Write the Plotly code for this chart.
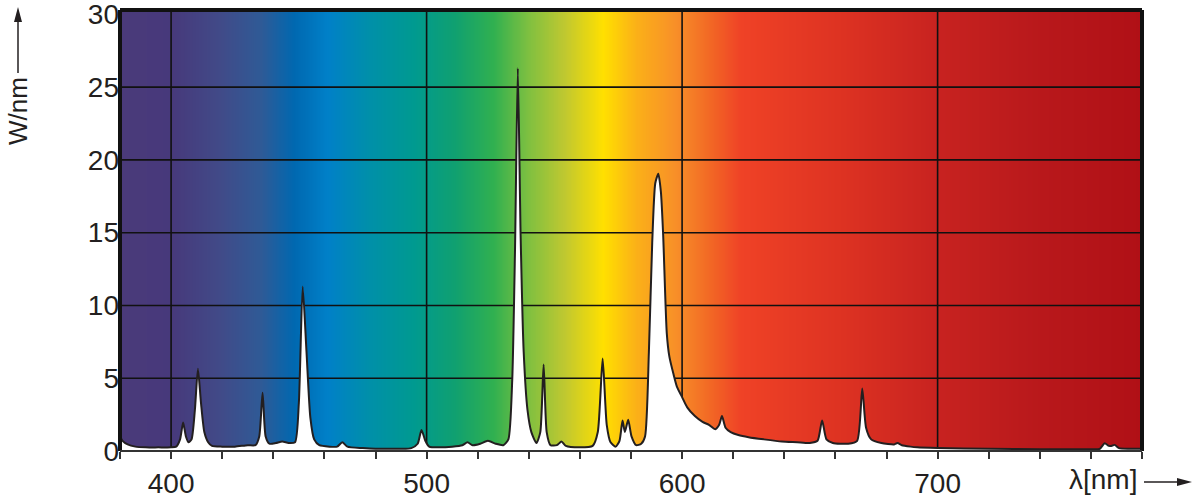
import numpy as np
import plotly.graph_objects as go

# spectrum: wavelength (nm) and power (W/nm)
wavelength = [380, 381, 383, 386, 390, 395, 400, 402, 403.5, 404.7, 405.8, 406.8, 408, 409.3,
              410.5, 411.7, 413, 414.5, 416, 420, 425, 430, 433, 434.5, 435.8, 437, 438.5,
              441, 443.5, 446, 448.5, 450, 451.5, 453, 454.5, 456, 458, 462, 465, 467, 469,
              475, 480, 485, 490, 494, 496.5, 498, 499.5, 501, 505, 510, 514, 516, 518, 521,
              524, 527, 530, 532, 533.5, 534.6, 535.7, 536.8, 538, 539.5, 541, 543, 544.5,
              545.8, 547, 548.5, 551, 552.8, 554.5, 560, 565, 567, 568.9, 570.5, 572, 574,
              575.5, 576.7, 577.6, 578.9, 580.2, 582, 584, 585.5, 587, 588.3, 589.5, 590.7,
              591.7, 592.6, 594, 595, 596.6, 598, 600, 602, 605, 608, 610.5, 613, 614.5,
              615.6, 617, 619, 622, 626, 632, 639, 645, 650, 653, 654.8, 656.5, 659, 665,
              668.5, 670.5, 672, 674, 678, 683, 684.3, 686, 689.4, 692, 700, 720, 740, 760,
              763.5, 765.4, 767, 768, 769.3, 771, 775, 780]
power = [1.0, 0.7, 0.45, 0.3, 0.25, 0.25, 0.25, 0.3, 0.8, 1.95, 1.0, 0.6, 0.8, 2.8,
         5.65, 3.3, 1.3, 0.6, 0.35, 0.3, 0.3, 0.4, 0.4, 1.0, 4.0, 1.0, 0.5,
         0.55, 0.65, 0.55, 0.6, 3.3, 11.3, 6.8, 2.3, 0.8, 0.4, 0.3, 0.3, 0.6, 0.3,
         0.2, 0.15, 0.15, 0.15, 0.2, 0.5, 1.45, 0.7, 0.3, 0.25, 0.3, 0.4, 0.6, 0.4, 0.5,
         0.7, 0.5, 0.4, 0.8, 4.8, 13.8, 26.3, 14.8, 6.8, 2.8, 1.3, 0.55, 1.3,
         5.95, 1.3, 0.4, 0.4, 0.65, 0.35, 0.25, 0.35, 1.3, 6.35, 1.8, 0.6, 0.3,
         0.7, 2.1, 1.3, 2.15, 1.0, 0.4, 0.5, 1.0, 6.8, 14.3, 18.4, 19.05,
         17.8, 14.8, 8.1, 6.5, 5.3, 4.4, 3.7, 3.0, 2.4, 2.0, 1.8, 1.5, 1.8,
         2.4, 1.6, 1.3, 1.1, 0.95, 0.8, 0.65, 0.6, 0.55, 0.7, 2.1, 0.8, 0.55, 0.5,
         0.7, 4.3, 1.6, 0.8, 0.55, 0.45, 0.55, 0.4, 0.3, 0.25, 0.2, 0.15, 0.12, 0.12,
         0.15, 0.53, 0.35, 0.35, 0.42, 0.2, 0.15, 0.15]

# background colour band (nm -> colour)
band_nm = [380, 400, 419, 435, 448, 461, 478, 495, 511, 526, 540, 554, 569, 582,
           597, 610, 623, 663, 699, 741, 780]
band_col = ["#4a3a7a", "#47397b", "#414a88", "#2f5a96", "#0068b0", "#0080c8", "#0090a8",
            "#009a90", "#10a070", "#30b050", "#80c040", "#c0c830", "#ffe000", "#fbb018",
            "#f89028", "#f26a25", "#ef4226", "#dd3222", "#c82320", "#b8181b", "#b01016"]

x_ticks = [400, 500, 600, 700]
y_ticks = [0, 5, 10, 15, 20, 25, 30]

x_min, x_max = 380, 780
y_max = 30.3
ink = "#231f20"

# plot area in pixels (used to place the arrows outside it)
PW, PH = 1022, 441


def px(dx):
    return dx / PW


def py(dy):
    return dy / PH


colorscale = [[(w - x_min) / (x_max - x_min), c] for w, c in zip(band_nm, band_col)]
grad_x = np.arange(x_min, x_max + 1)

fig = go.Figure()
fig.add_trace(go.Heatmap(x=grad_x, y=[0, y_max], z=[grad_x, grad_x],
                         zmin=x_min, zmax=x_max, colorscale=colorscale,
                         zsmooth="best", showscale=False, hoverinfo="skip"))

# grid drawn as a trace so that it sits over the colour band but under the white area
gx, gy = [], []
for v in x_ticks:
    gx += [v, v, None]
    gy += [0, y_max, None]
for v in y_ticks[1:-1]:
    gx += [x_min, x_max, None]
    gy += [v, v, None]
fig.add_trace(go.Scatter(x=gx, y=gy, mode="lines", line=dict(color="#111", width=1.6),
                         hoverinfo="skip", showlegend=False))

fig.add_trace(go.Scatter(x=wavelength, y=power, mode="lines", fill="tozeroy",
                         fillcolor="white",
                         line=dict(color=ink, width=2, shape="spline", smoothing=0.6),
                         showlegend=False))

font = dict(family="Liberation Sans, Arial, sans-serif", size=28, color=ink)

fig.update_xaxes(range=[x_min, x_max], tickvals=x_ticks, showgrid=False, zeroline=False,
                 ticks="outside", ticklen=7, tickwidth=2, tickcolor="#333",
                 minor=dict(dtick=20, tick0=380, ticks="outside", ticklen=7, tickwidth=2,
                            tickcolor="#333"),
                 tickfont=font, showline=False, ticklabeloverflow="allow", automargin=False)
fig.update_yaxes(range=[0, y_max], tickvals=y_ticks, showgrid=False, zeroline=False,
                 ticks="", tickfont=font, showline=False, ticklabeloverflow="allow",
                 automargin=False)

# frame
fig.add_shape(type="line", xref="paper", yref="paper", x0=0, x1=0, y0=0, y1=1,
              line=dict(color="#111", width=4))
fig.add_shape(type="line", xref="paper", yref="paper", x0=0, x1=1, y0=1, y1=1,
              line=dict(color="#111", width=4))
fig.add_shape(type="line", xref="paper", yref="paper", x0=1, x1=1, y0=0, y1=1,
              line=dict(color="#111", width=4))
fig.add_shape(type="line", xref="paper", yref="paper", x0=0, x1=1, y0=0, y1=0,
              line=dict(color="#333", width=2))

# axis titles
fig.add_annotation(text="W/nm", textangle=-90, xref="paper", yref="paper",
                   x=px(18 - 120), y=py(451 - 111), showarrow=False,
                   font=dict(family=font["family"], size=26, color=ink),
                   xanchor="center", yanchor="middle")
fig.add_annotation(text="λ[nm]", xref="paper", yref="paper", x=px(1139 - 120),
                   y=py(451 - 480), showarrow=False, font=font,
                   xanchor="right", yanchor="middle")

# arrows next to the titles
ax_x = px(18 - 120)
fig.add_shape(type="line", xref="paper", yref="paper", x0=ax_x, x1=ax_x,
              y0=py(451 - 73), y1=py(451 - 20), line=dict(color=ink, width=1.5))
fig.add_shape(type="path", xref="paper", yref="paper", fillcolor=ink, line=dict(width=0),
              path=f"M {ax_x} {py(451 - 7)} L {ax_x - px(4)} {py(451 - 22)} "
                   f"L {ax_x + px(4)} {py(451 - 22)} Z")
ay_y = py(451 - 482)
fig.add_shape(type="line", xref="paper", yref="paper", x0=px(1144 - 120), x1=px(1180 - 120),
              y0=ay_y, y1=ay_y, line=dict(color=ink, width=1.5))
fig.add_shape(type="path", xref="paper", yref="paper", fillcolor=ink, line=dict(width=0),
              path=f"M {px(1192 - 120)} {ay_y} L {px(1177 - 120)} {ay_y + py(4)} "
                   f"L {px(1177 - 120)} {ay_y - py(4)} Z")

fig.update_layout(width=1193, height=500, margin=dict(l=120, r=51, t=10, b=49),
                  paper_bgcolor="white", plot_bgcolor="white", showlegend=False)

# drop the page's default 8px body margin so the figure fills the window exactly
fig.write_html("out.html", config={"displayModeBar": False},
               post_script="document.body.style.margin='0';")
